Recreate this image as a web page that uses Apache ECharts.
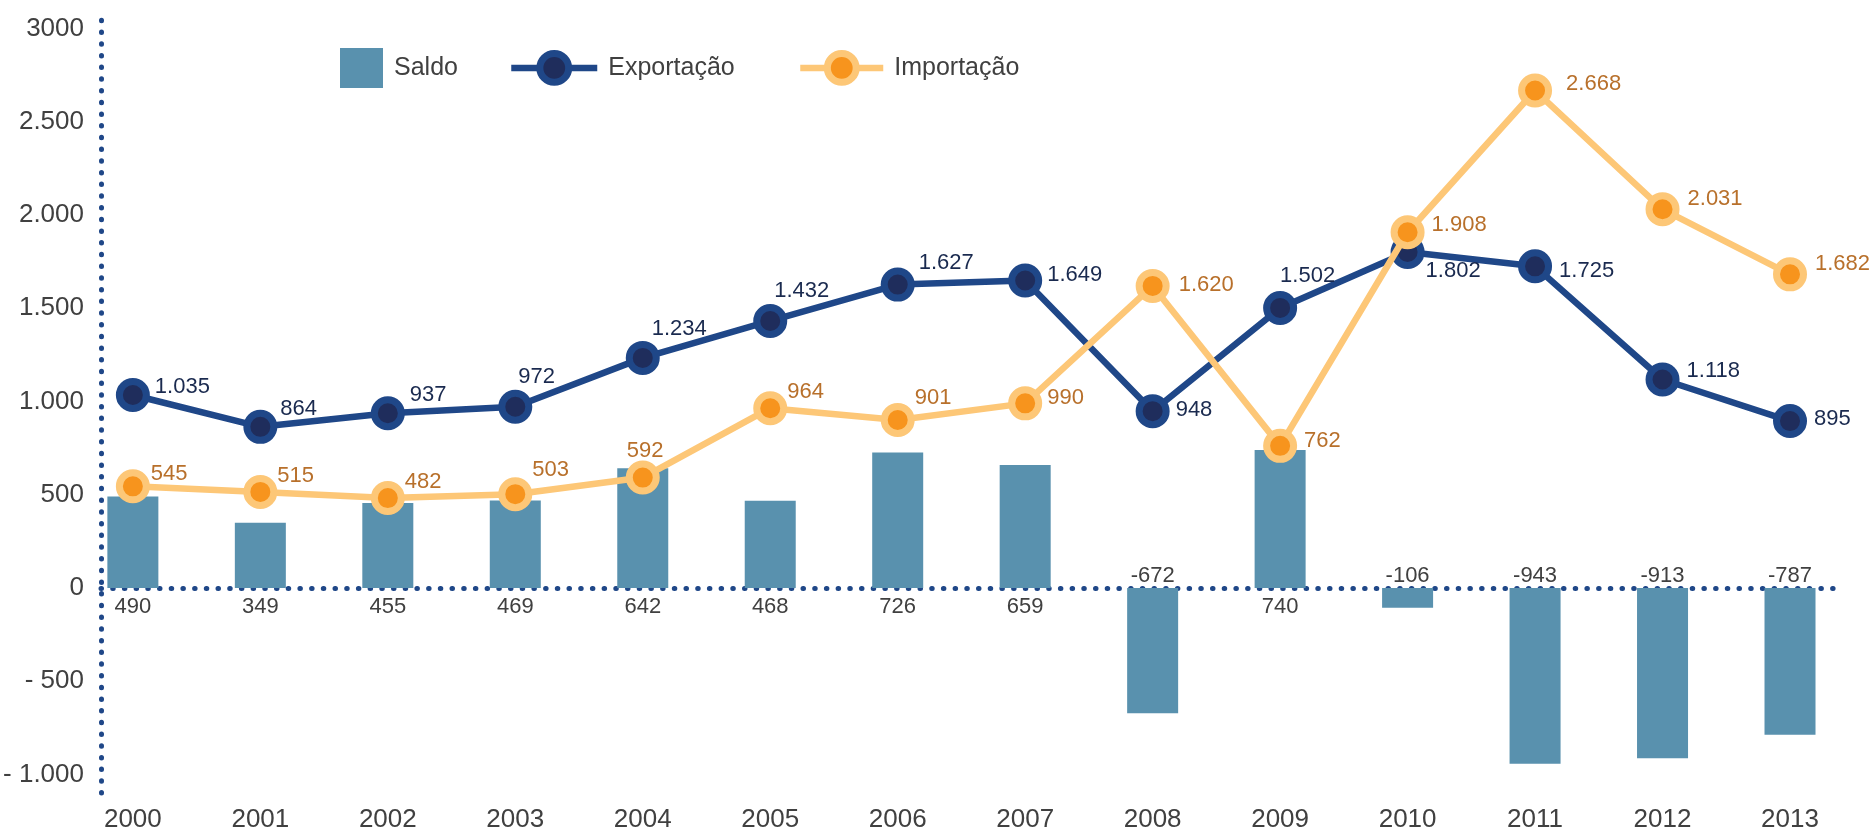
<!DOCTYPE html>
<html>
<head>
<meta charset="utf-8">
<script src="https://cdn.jsdelivr.net/npm/echarts@6/dist/echarts.min.js"></script>
<style>
html,body{margin:0;padding:0;background:#fff;}
#chart{width:1872px;height:834px;}
</style>
</head>
<body>
<div id="chart"></div>
<script>
// ---- data ----
const years = ['2000','2001','2002','2003','2004','2005','2006','2007','2008','2009','2010','2011','2012','2013'];
const saldo = [490, 349, 455, 469, 642, 468, 726, 659, -672, 740, -106, -943, -913, -787];
const exportacao = [1035, 864, 937, 972, 1234, 1432, 1627, 1649, 948, 1502, 1802, 1725, 1118, 895];
const importacao = [545, 515, 482, 503, 592, 964, 901, 990, 1620, 762, 1908, 2668, 2031, 1682];
const yTickValues = [-1000, -500, 0, 500, 1000, 1500, 2000, 2500, 3000];
const yTickLabels = ['- 1.000', '- 500', '0', '500', '1.000', '1.500', '2.000', '2.500', '3000'];

// ---- label layout (pixel offsets of value labels from their marker) ----
const expLabelOffset = [[22,-8],[20,-18],[22,-18],[3,-30],[9,-29],[4,-30],[21,-22],[22,-6],[23,-1],[0,-32],[18,19],[24,5],[24,-9],[24,-2]];
const impLabelOffset = [[18,-12],[17,-16],[17,-16],[17,-24],[-16,-27],[17,-16],[17,-22],[22,-5],[26,-1],[24,-5],[24,-7],[31,-7],[25,-10],[25,-10]];

const FONT = "'Liberation Sans', Arial, Helvetica, sans-serif";
const DOT_BLUE = '#1f4788';
const fmt = v => (v < 0 ? '-' : '') + Math.abs(v).toString().replace(/\B(?=(\d{3})+(?!\d))/g, '.');

const chart = echarts.init(document.getElementById('chart'), null, {renderer: 'canvas'});

const xMin = -0.25, xMax = 13.4;
const dotted = {color: DOT_BLUE, width: 5, type: [0.5, 11.2], cap: 'round'};
const legendText = {fontSize: 25, color: '#404040', fontFamily: FONT, padding: [0, 0, 0, 6]};

const option = {
  animation: false,
  backgroundColor: '#ffffff',
  textStyle: {fontFamily: FONT},
  grid: {left: 101, right: 31, top: 10, bottom: 41, containLabel: false},
  legend: [
    {
      data: [{name: 'Saldo', icon: 'rect'}],
      left: 335, top: 43, itemWidth: 43, itemHeight: 40,
      selectedMode: false,
      textStyle: legendText
    },
    {
      data: ['Exportação'],
      left: 503, top: 45, itemWidth: 86, itemHeight: 36,
      selectedMode: false,
      lineStyle: {width: 6.5, color: '#1f4788'},
      itemStyle: {color: '#1f2d5c', borderColor: '#1f4788', borderWidth: 7},
      textStyle: legendText
    },
    {
      data: ['Importação'],
      left: 792, top: 45, itemWidth: 83, itemHeight: 36,
      selectedMode: false,
      lineStyle: {width: 6.5, color: '#fdc777'},
      itemStyle: {color: '#f7941d', borderColor: '#fdc777', borderWidth: 7},
      textStyle: legendText
    }
  ],
  xAxis: [
    {
      type: 'value', min: xMin, max: xMax, interval: 0.25,
      position: 'bottom',
      axisLine: {show: false, onZero: false},
      axisTick: {show: false},
      splitLine: {show: false},
      axisLabel: {
        fontSize: 26, color: '#404040', fontFamily: FONT, margin: 14,
        showMinLabel: true, showMaxLabel: true,
        formatter: v => {
          const r = Math.round(v);
          if (Math.abs(v - r) > 1e-6 || r < 0 || r >= years.length) return '';
          return years[r];
        }
      }
    },
    {
      type: 'value', min: xMin, max: xMax, interval: 0.25,
      position: 'top',
      axisLine: {show: true, onZero: true, lineStyle: dotted},
      axisTick: {show: false},
      splitLine: {show: false},
      axisLabel: {show: false}
    }
  ],
  yAxis: {
    type: 'value', min: -1100, max: 3100, interval: 100,
    axisLine: {show: true, onZero: false, lineStyle: dotted},
    axisTick: {show: false},
    splitLine: {show: false},
    axisLabel: {
      fontSize: 26, color: '#404040', fontFamily: FONT, margin: 17,
      formatter: v => {
        const k = yTickValues.indexOf(Math.round(v));
        return (k >= 0 && Math.abs(v - Math.round(v)) < 1e-6) ? yTickLabels[k] : '';
      }
    }
  },
  series: [
    {
      name: 'Saldo',
      type: 'bar',
      xAxisIndex: 0,
      barWidth: 51,
      itemStyle: {color: '#5991ae'},
      label: {
        show: true, fontSize: 22, color: '#404040', fontFamily: FONT, distance: 8,
        formatter: p => fmt(p.value[1])
      },
      data: saldo.map((v, i) => ({
        value: [i, v],
        label: v >= 0 ? {position: 'bottom', distance: 8} : {position: 'top', distance: 1}
      })),
      z: 2
    },
    {
      name: 'Exportação',
      type: 'line',
      xAxisIndex: 0,
      symbol: 'circle',
      symbolSize: 27,
      lineStyle: {color: '#1f4788', width: 6.5},
      itemStyle: {color: '#1f2d5c', borderColor: '#1f4788', borderWidth: 7},
      label: {
        show: true, position: 'inside', align: 'left', verticalAlign: 'middle',
        fontSize: 22, color: '#1a2a4f', fontFamily: FONT,
        formatter: p => fmt(p.value[1])
      },
      data: exportacao.map((v, i) => ({value: [i, v], label: {offset: expLabelOffset[i]}})),
      z: 3
    },
    {
      name: 'Importação',
      type: 'line',
      xAxisIndex: 0,
      symbol: 'circle',
      symbolSize: 27,
      lineStyle: {color: '#fdc777', width: 6.5},
      itemStyle: {color: '#f7941d', borderColor: '#fdc777', borderWidth: 7},
      label: {
        show: true, position: 'inside', align: 'left', verticalAlign: 'middle',
        fontSize: 22, color: '#b8702b', fontFamily: FONT,
        formatter: p => fmt(p.value[1])
      },
      data: importacao.map((v, i) => ({value: [i, v], label: {offset: impLabelOffset[i]}})),
      z: 4
    }
  ]
};

chart.setOption(option);
</script>
</body>
</html>
